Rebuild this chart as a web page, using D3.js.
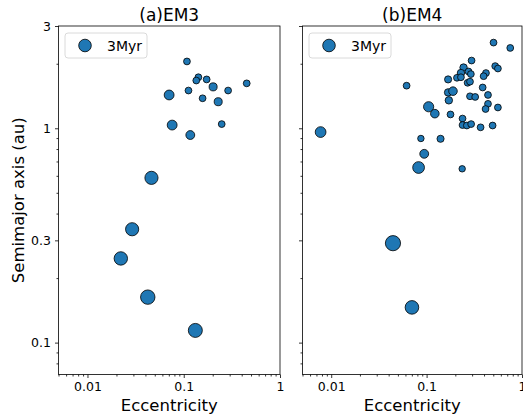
<!DOCTYPE html>
<html>
<head>
<meta charset="utf-8">
<script src="https://cdn.jsdelivr.net/npm/d3@7"></script>
<style>
  body { margin: 0; background: #fff; }
  text { font-family: "DejaVu Sans", sans-serif; }
</style>
</head>
<body>
<div id="container"></div>
<script>
/* DATA */
const panelTitles = ["(a)EM3", "(b)EM4"];
const legendLabel = "3Myr";

// (a) EM3
const ecc3 = [0.108, 0.142, 0.135, 0.173, 0.202, 0.451, 0.289, 0.112, 0.0705, 0.157,
  0.228, 0.0758, 0.248, 0.117, 0.0462, 0.0291, 0.0222, 0.0423, 0.132];
const semi3 = [2.05, 1.73, 1.67, 1.69, 1.56, 1.62, 1.50, 1.50, 1.43, 1.38,
  1.33, 1.035, 1.046, 0.93, 0.587, 0.338, 0.247, 0.163, 0.114];
const mass3 = [0.2, 0.2, 0.2, 0.2, 0.28, 0.2, 0.2, 0.2, 0.42, 0.2,
  0.28, 0.42, 0.2, 0.34, 0.75, 0.75, 0.78, 0.9, 0.85];

// (b) EM4
const ecc4 = [0.503, 0.753, 0.296, 0.244, 0.524, 0.559, 0.275, 0.291, 0.229, 0.208,
  0.229, 0.419, 0.396, 0.168, 0.269, 0.285, 0.0617, 0.387, 0.168, 0.189,
  0.285, 0.323, 0.440, 0.171, 0.440, 0.415, 0.559, 0.105, 0.122, 0.178,
  0.238, 0.238, 0.264, 0.293, 0.368, 0.492, 0.00774, 0.0871, 0.140, 0.0944,
  0.0824, 0.236, 0.0444, 0.0702];
const semi4 = [2.51, 2.37, 2.07, 1.92, 1.95, 1.90, 1.84, 1.79, 1.81, 1.72,
  1.73, 1.81, 1.75, 1.69, 1.63, 1.65, 1.58, 1.55, 1.47, 1.49,
  1.41, 1.40, 1.43, 1.35, 1.30, 1.23, 1.25, 1.26, 1.17, 1.16,
  1.11, 1.035, 1.03, 1.046, 1.01, 1.03, 0.96, 0.896, 0.893, 0.760,
  0.656, 0.647, 0.291, 0.146];
const mass4 = [0.2, 0.2, 0.2, 0.24, 0.2, 0.2, 0.2, 0.2, 0.24, 0.2,
  0.2, 0.2, 0.2, 0.22, 0.2, 0.2, 0.2, 0.2, 0.24, 0.32,
  0.2, 0.2, 0.2, 0.24, 0.2, 0.2, 0.2, 0.45, 0.32, 0.2,
  0.2, 0.2, 0.2, 0.2, 0.2, 0.2, 0.5, 0.18, 0.22, 0.34,
  0.6, 0.18, 1.0, 0.8];

const xMajor = [0.01, 0.1, 1];
const yMajor = [0.1, 0.3, 1, 3];

/* LAYOUT */
const width = 523, height = 415;
const plotTop = 26, plotBottom = 374.5;
const panels = [
  { x0: 58.5, x1: 280, title: panelTitles[0], ecc: ecc3, semi: semi3, mass: mass3, yLabels: true },
  { x0: 302.5, x1: 522, title: panelTitles[1], ecc: ecc4, semi: semi4, mass: mass4, yLabels: false }
];

const svg = d3.select("#container").append("svg")
  .attr("width", width)
  .attr("height", height);

const yScale = d3.scaleLog().domain([0.071, 3]).range([plotBottom, plotTop]);
const rScale = d3.scaleSqrt().domain([0, 1]).range([0, 7.6]);

const xMinor = [];
[0.001, 0.01, 0.1].forEach(dec => d3.range(2, 10).forEach(k => {
  const v = +(k * dec).toPrecision(3);
  if (v >= 0.005 && v < 1) xMinor.push(v);
}));
const yMinor = [0.08, 0.09, 0.2, 0.4, 0.5, 0.6, 0.7, 0.8, 0.9, 2];

panels.forEach(p => {
  const xScale = d3.scaleLog().domain([0.005, 1]).range([p.x0, p.x1]);
  const g = svg.append("g");

  // minor ticks
  g.append("g")
    .attr("transform", `translate(0,${plotBottom})`)
    .call(d3.axisBottom(xScale).tickValues(xMinor).tickSize(2).tickFormat(""))
    .call(a => a.select(".domain").remove());
  g.append("g")
    .attr("transform", `translate(${p.x0},0)`)
    .call(d3.axisLeft(yScale).tickValues(yMinor).tickSize(2).tickFormat(""))
    .call(a => a.select(".domain").remove());

  // major ticks
  g.append("g")
    .attr("transform", `translate(0,${plotBottom})`)
    .call(d3.axisBottom(xScale).tickValues(xMajor).tickSize(3.5).tickPadding(4)
      .tickFormat(d => d3.format("~g")(d)))
    .call(a => a.select(".domain").remove())
    .call(a => a.selectAll("text").attr("font-size", 12.5).attr("fill", "#000")
      .attr("font-family", "DejaVu Sans"));
  g.append("g")
    .attr("transform", `translate(${p.x0},0)`)
    .call(d3.axisLeft(yScale).tickValues(yMajor).tickSize(3.5).tickPadding(4)
      .tickFormat(d => p.yLabels ? d3.format("~g")(d) : ""))
    .call(a => a.select(".domain").remove())
    .call(a => a.selectAll("text").attr("font-size", 12.5).attr("fill", "#000")
      .attr("font-family", "DejaVu Sans"));

  g.selectAll(".tick line").attr("stroke", "#000").attr("stroke-width", 0.8);

  // points
  const pts = p.ecc.map((e, i) => ({ e, a: p.semi[i], m: p.mass[i] }));
  g.selectAll("circle.point")
    .data(pts)
    .join("circle")
    .attr("class", "point")
    .attr("cx", d => xScale(d.e))
    .attr("cy", d => yScale(d.a))
    .attr("r", d => rScale(d.m))
    .attr("fill", "#1f77b4")
    .attr("stroke", "#000")
    .attr("stroke-width", 0.8);

  // frame
  g.append("rect")
    .attr("x", p.x0).attr("y", plotTop)
    .attr("width", p.x1 - p.x0).attr("height", plotBottom - plotTop)
    .attr("fill", "none").attr("stroke", "#000").attr("stroke-width", 0.8);

  // legend
  const lg = g.append("g").attr("transform", `translate(${p.x0 + 6.5},${plotTop + 7})`);
  lg.append("rect")
    .attr("width", 82).attr("height", 25).attr("rx", 3)
    .attr("fill", "#fff").attr("fill-opacity", 0.8)
    .attr("stroke", "#d0d0d0").attr("stroke-width", 0.8);
  lg.append("circle")
    .attr("cx", 20).attr("cy", 12.5).attr("r", 6.3)
    .attr("fill", "#1f77b4").attr("stroke", "#000").attr("stroke-width", 0.8);
  lg.append("text")
    .attr("x", 42).attr("y", 17.5)
    .attr("font-size", 14)
    .text(legendLabel);

  // title and x label
  g.append("text")
    .attr("x", (p.x0 + p.x1) / 2).attr("y", 21)
    .attr("text-anchor", "middle").attr("font-size", 17)
    .text(p.title);
  g.append("text")
    .attr("x", (p.x0 + p.x1) / 2).attr("y", 411)
    .attr("text-anchor", "middle").attr("font-size", 16.5)
    .text("Eccentricity");
});

svg.append("text")
  .attr("transform", `translate(24,${(plotTop + plotBottom) / 2}) rotate(-90)`)
  .attr("text-anchor", "middle").attr("font-size", 16.5)
  .text("Semimajor axis (au)");
</script>
</body>
</html>
